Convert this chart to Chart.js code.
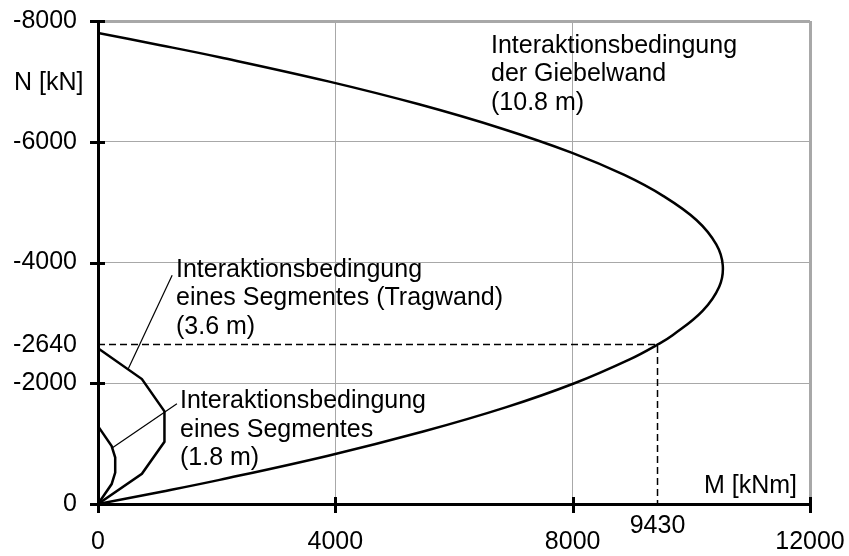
<!DOCTYPE html>
<html>
<head>
<meta charset="utf-8">
<script src="https://cdn.jsdelivr.net/npm/chart.js@4/dist/chart.umd.min.js"></script>
<style>
  html, body { margin: 0; padding: 0; background: #fff; }
  canvas { display: block; }
</style>
</head>
<body>
<canvas id="chart" width="849" height="556"></canvas>
<script>
// Interaction curve of the gable wall (10.8 m): moment M [kNm] vs. normal force N [kN]
const giebelM = [0, 1050, 2050, 3880, 5480, 6870, 8030, 8970, 9430, 9690, 10190, 10470, 10530, 10420, 10090, 9530, 8870, 7980, 6800, 5410, 3880, 2050, 1050, 0];
const giebelN = [0, -200, -400, -800, -1200, -1600, -2000, -2400, -2640, -2800, -3200, -3600, -3950, -4300, -4700, -5100, -5450, -5820, -6220, -6620, -7000, -7400, -7600, -7800];

// Interaction curve of one segment, bearing wall (3.6 m)
const tragM = [0, 740, 1120, 1120, 740, 0];
const tragN = [-2580, -2070, -1535, -1030, -500, 0];

// Interaction curve of one segment (1.8 m)
const segM = [0, 230, 290, 290, 230, 0];
const segN = [-1290, -960, -770, -520, -330, 0];

// Design point read-off: N = -2640 kN gives M = 9430 kNm
const refM = [0, 9430, 9430];
const refN = [-2640, -2640, 0];

// Leader lines from the notes to the segment curves
const leaderTragM = [1250, 510];
const leaderTragN = [-3790, -2240];
const leaderSegM = [1330, 250];
const leaderSegN = [-1660, -935];

// Axis ticks
const xTickValues = [0, 4000, 8000, 12000];
const yTickValues = [-8000, -6000, -4000, -2640, -2000, 0];
const xGridValues = [4000, 8000, 12000];
const yGridValues = [-8000, -6000, -4000, -2000];
const xTickMarks = [0, 4000, 8000, 12000];
const yTickMarks = [-8000, -6000, -4000, -2000, 0];
const xMarkedValues = [9430];

// Note texts
const noteGiebel = ['Interaktionsbedingung', 'der Giebelwand', '(10.8 m)'];
const noteTrag = ['Interaktionsbedingung', 'eines Segmentes (Tragwand)', '(3.6 m)'];
const noteSeg = ['Interaktionsbedingung', 'eines Segmentes', '(1.8 m)'];
const xTitle = 'M [kNm]';
const yTitle = 'N [kN]';

const FONT = '"Liberation Sans", Arial, sans-serif';
const FS = 25;

const pts = (ms, ns) => ms.map((m, i) => ({ x: m, y: ns[i] }));

const line = (ms, ns, width, extra) => Object.assign({
  data: pts(ms, ns),
  showLine: true,
  borderColor: '#000',
  backgroundColor: '#000',
  borderWidth: width,
  pointRadius: 0,
  fill: false,
  tension: 0
}, extra || {});

const notes = [
  { m: 6624, n: -7470, lines: noteGiebel },
  { m: 1315, n: -3760, lines: noteTrag },
  { m: 1382, n: -1590, lines: noteSeg }
];

const overlay = {
  id: 'overlay',
  afterDraw(chart) {
    const { ctx } = chart;
    const x = chart.scales.x, y = chart.scales.y;
    ctx.save();

    // tick marks crossing the axes
    ctx.strokeStyle = '#000';
    ctx.lineWidth = 3;
    ctx.lineCap = 'butt';
    ctx.beginPath();
    yTickMarks.forEach(v => {
      const py = Math.round(y.getPixelForValue(v)) + 0.5;
      ctx.moveTo(x.left - 8, py);
      ctx.lineTo(x.left + 7, py);
    });
    xTickMarks.forEach(v => {
      const px = Math.round(x.getPixelForValue(v)) + 0.5;
      ctx.moveTo(px, y.bottom - 7);
      ctx.lineTo(px, y.bottom + 9);
    });
    ctx.stroke();

    ctx.fillStyle = '#000';
    ctx.font = FS + 'px ' + FONT;
    ctx.textBaseline = 'alphabetic';

    // raised label of the read-off moment
    ctx.textAlign = 'center';
    xMarkedValues.forEach(v => ctx.fillText(String(v), x.getPixelForValue(v), y.bottom + 29));

    // notes
    ctx.textAlign = 'left';
    notes.forEach(nt => {
      const px = x.getPixelForValue(nt.m);
      const py = y.getPixelForValue(nt.n);
      nt.lines.forEach((t, i) => ctx.fillText(t, px, py + i * 28.5));
    });

    // axis titles
    ctx.fillText(yTitle, 14, 90);
    ctx.textAlign = 'right';
    ctx.fillText(xTitle, x.right - 13, y.bottom - 11);

    ctx.restore();
  }
};

new Chart(document.getElementById('chart'), {
  type: 'scatter',
  data: {
    datasets: [
      line(giebelM, giebelN, 2.5, { tension: 0.4 }),
      line(tragM, tragN, 2.5),
      line(segM, segN, 2.5),
      line(refM, refN, 1.5, { borderDash: [7, 4] }),
      line(leaderTragM, leaderTragN, 1.2),
      line(leaderSegM, leaderSegN, 1.2)
    ]
  },
  options: {
    responsive: false,
    animation: false,
    devicePixelRatio: 1,
    layout: { padding: { top: 21, right: 39, left: 0, bottom: 0 } },
    plugins: { legend: { display: false }, tooltip: { enabled: false } },
    scales: {
      x: {
        type: 'linear',
        min: 0,
        max: 12000,
        afterBuildTicks: s => { s.ticks = xTickValues.map(v => ({ value: v })); },
        afterFit: s => { s.height = 52; s.paddingLeft = 0; s.paddingRight = 0; },
        ticks: {
          padding: 23,
          autoSkip: false,
          maxRotation: 0,
          color: '#000',
          font: { family: FONT, size: FS },
          callback: v => String(v)
        },
        grid: {
          drawTicks: false,
          color: c => (c.tick && xGridValues.includes(c.tick.value)) ? '#a8a8a8' : 'rgba(0,0,0,0)',
          lineWidth: c => (c.tick && c.tick.value === 12000) ? 3 : 1
        },
        border: { display: true, color: '#000', width: 3 }
      },
      y: {
        type: 'linear',
        min: -8000,
        max: 0,
        reverse: true,
        afterBuildTicks: s => { s.ticks = yTickValues.map(v => ({ value: v })); },
        afterFit: s => { s.width = 98; s.paddingTop = 0; s.paddingBottom = 0; },
        ticks: {
          padding: 21,
          autoSkip: false,
          color: '#000',
          font: { family: FONT, size: FS },
          callback: v => String(v)
        },
        grid: {
          drawTicks: false,
          color: c => (c.tick && yGridValues.includes(c.tick.value)) ? '#a8a8a8' : 'rgba(0,0,0,0)',
          lineWidth: c => (c.tick && c.tick.value === -8000) ? 3 : 1
        },
        border: { display: true, color: '#000', width: 3 }
      }
    }
  },
  plugins: [overlay]
});
</script>
</body>
</html>
